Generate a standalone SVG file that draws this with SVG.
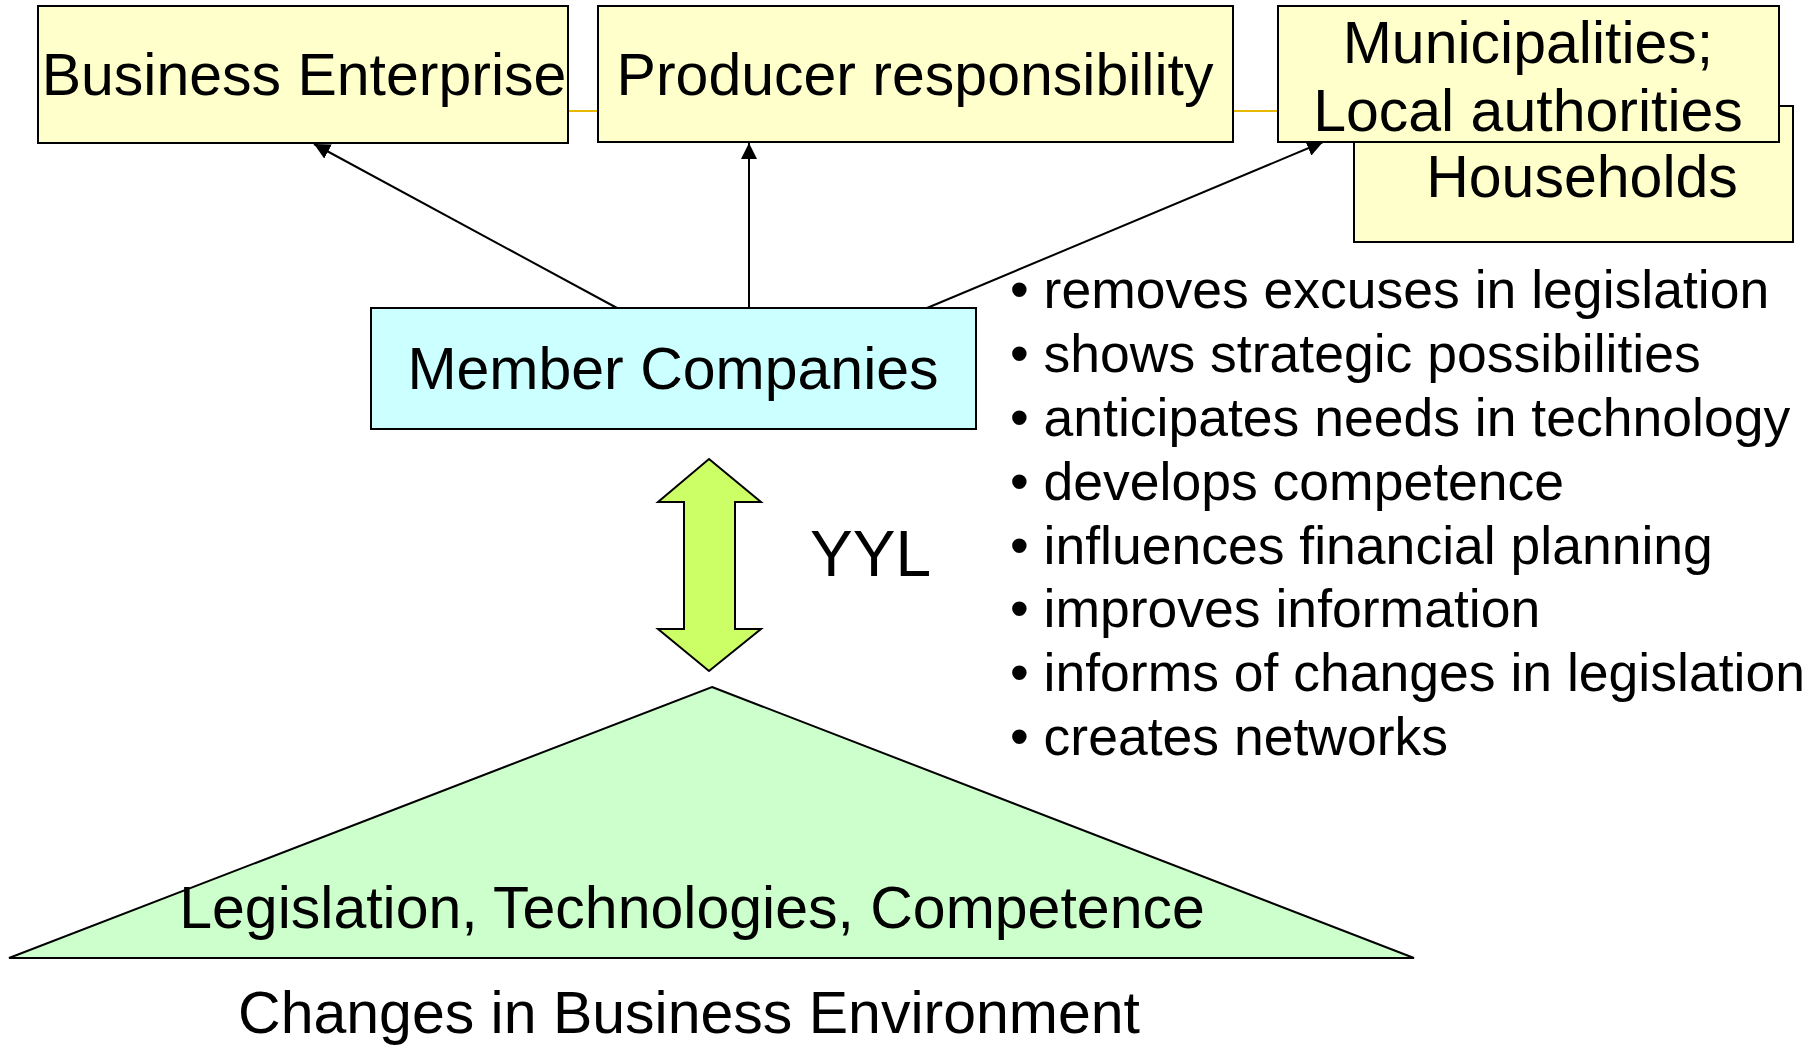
<svg xmlns="http://www.w3.org/2000/svg" width="1816" height="1046" viewBox="0 0 1816 1046">
<style>
text{font-family:"Liberation Sans",Arial,sans-serif;fill:#000}
.t{font-size:59px;text-anchor:middle}
.b{font-size:53.5px}
.ybox{fill:#FFFFCC;stroke:#000;stroke-width:2}
.conn{stroke:#000;stroke-width:2;fill:none}
.gold{stroke:#E6B800;stroke-width:2;fill:none}
</style>
<defs>
<marker id="ah" viewBox="0 0 16 16" refX="16" refY="8" markerWidth="16" markerHeight="16" markerUnits="userSpaceOnUse" orient="auto">
<path d="M0,0 L16,8 L0,16 Z" fill="#000"/>
</marker>
</defs>
<rect width="1816" height="1046" fill="#fff"/>
<g id="connectors">
<line class="gold" x1="568" y1="111" x2="598" y2="111"/>
<line class="gold" x1="1233" y1="111" x2="1278" y2="111"/>
<line class="conn" x1="617" y1="308" x2="314" y2="144" marker-end="url(#ah)"/>
<line class="conn" x1="749" y1="308" x2="749" y2="143" marker-end="url(#ah)"/>
<line class="conn" x1="927" y1="308" x2="1323" y2="142" marker-end="url(#ah)"/>
</g>
<g id="households">
<rect class="ybox" x="1354" y="106" width="439" height="136"/>
<text class="t" x="1582" y="197">Households</text>
</g>
<g id="business-enterprise">
<rect class="ybox" x="38" y="6" width="530" height="137"/>
<text class="t" x="304" y="95">Business Enterprise</text>
</g>
<g id="producer-responsibility">
<rect class="ybox" x="598" y="6" width="635" height="136"/>
<text class="t" x="915" y="95">Producer responsibility</text>
</g>
<g id="municipalities">
<rect class="ybox" x="1278" y="6" width="501" height="136"/>
<text class="t" x="1528" y="63">Municipalities;</text>
<text class="t" x="1528" y="131">Local authorities</text>
</g>
<g id="member-companies">
<rect x="371" y="308" width="605" height="121" fill="#CCFFFF" stroke="#000" stroke-width="2"/>
<text class="t" x="673" y="389">Member Companies</text>
</g>
<g id="yyl">
<path d="M709,459 L761,502 L735,502 L735,629 L761,629 L709,671 L658,629 L684,629 L684,502 L658,502 Z" fill="#CCFF66" stroke="#000" stroke-width="2" stroke-linejoin="miter"/>
<text x="810" y="576" style="font-size:64px">YYL</text>
</g>
<g id="benefits">
<text class="b" x="1010" y="308">• removes excuses in legislation</text>
<text class="b" x="1010" y="372">• shows strategic possibilities</text>
<text class="b" x="1010" y="436">• anticipates needs in technology</text>
<text class="b" x="1010" y="500">• develops competence</text>
<text class="b" x="1010" y="564">• influences financial planning</text>
<text class="b" x="1010" y="627">• improves information</text>
<text class="b" x="1010" y="691">• informs of changes in legislation</text>
<text class="b" x="1010" y="755">• creates networks</text>
</g>
<g id="environment">
<polygon points="712,687 1414,958 9,958" fill="#CCFFCC" stroke="#000" stroke-width="2"/>
<text class="t" x="692" y="928">Legislation, Technologies, Competence</text>
</g>
<g id="changes-label">
<text class="t" x="689" y="1033">Changes in Business Environment</text>
</g>
</svg>
